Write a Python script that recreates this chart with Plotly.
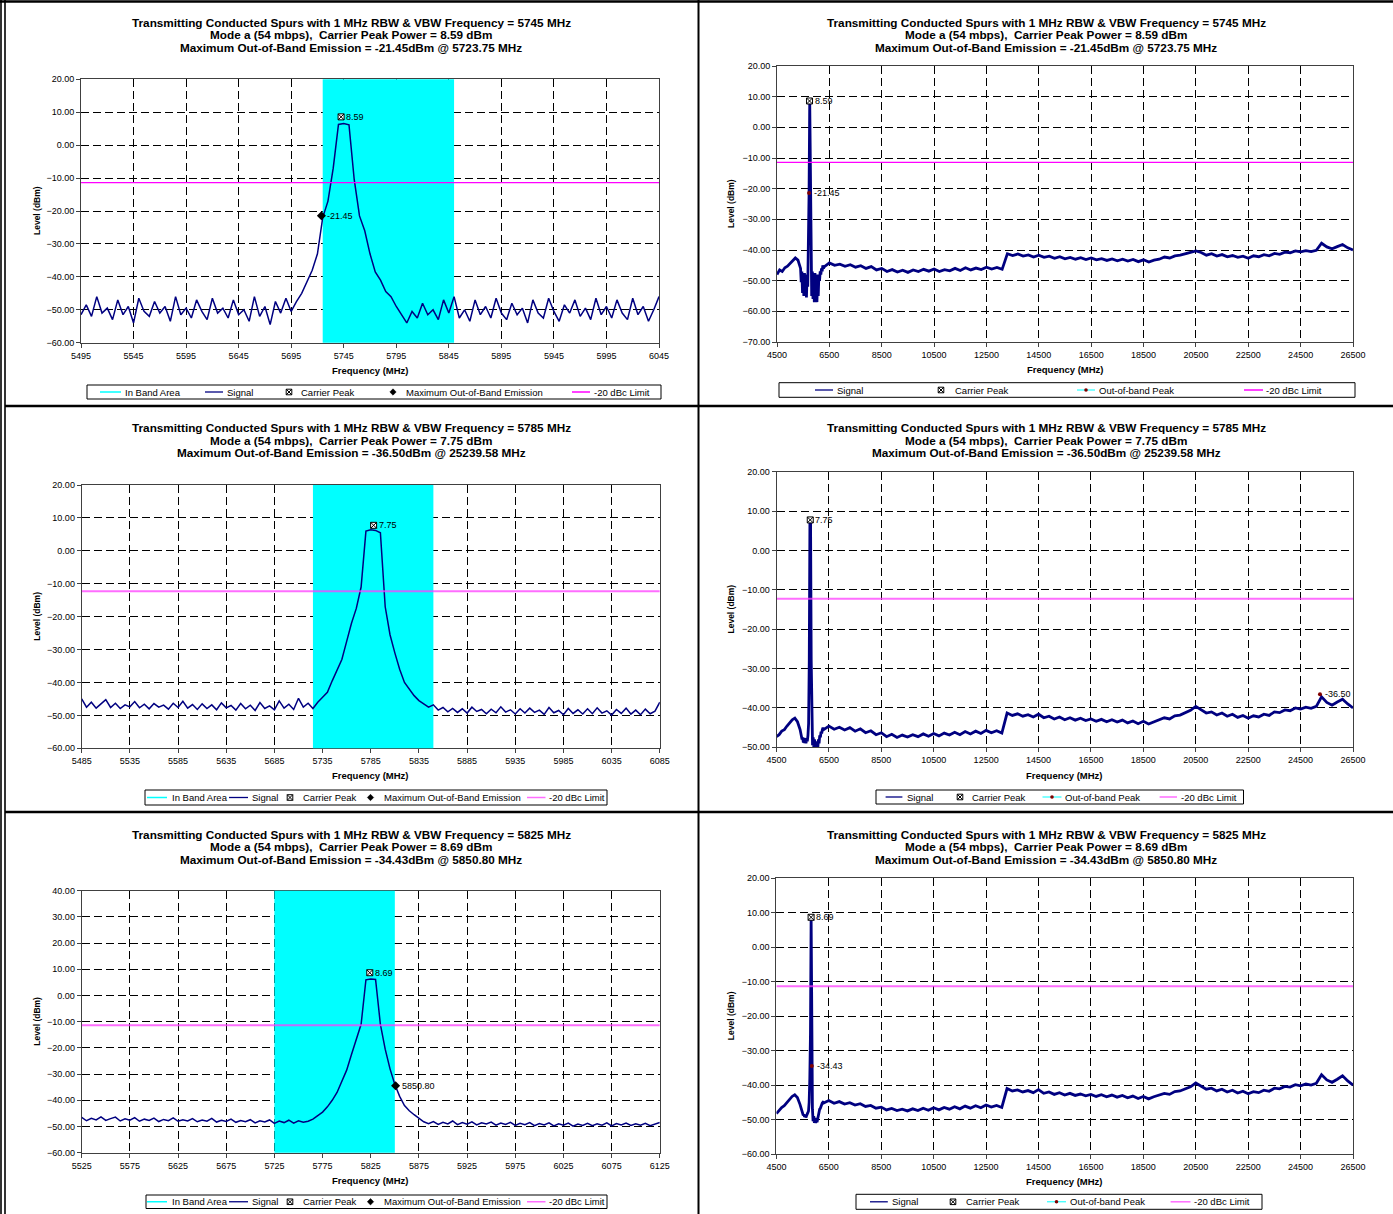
import numpy as np
import plotly.graph_objects as go

W, H = 1393, 1214
FONT = "Liberation Sans, Arial, sans-serif"

# ======================= DATA =======================
channel_mhz = [5745, 5785, 5825]
carrier_peak_mhz = [5742.5, 5788.0, 5824.0]
carrier_peak_dbm = [8.59, 7.75, 8.69]
oob_max_mhz = [5723.75, 25239.58, 5850.80]
oob_max_dbm = [-21.45, -36.50, -34.43]
in_band_mhz = [5725, 5850]
limit_offset_db = -20

inband_x_range = [[5495, 6045], [5485, 6085], [5525, 6125]]
inband_y_range = [[-60, 20], [-60, 20], [-60, 40]]
spur_x_range = [4500, 26500]
spur_y_range = [[-70, 20], [-50, 20], [-60, 20]]

inband_x_dtick = 50
spur_x_dtick = 2000

# in-band sweeps: start frequency, 5 MHz step
inband_sweep_start = [5495, 5485, 5525]
inband_sweep_step = 5

inband_level_1 = [
    -51.5, -48.5, -52.0, -46.0, -51.0, -49.5, -53.0, -47.0, -51.5, -49.0,
    -54.0, -46.5, -50.5, -52.0, -47.5, -51.0, -49.0, -53.5, -46.0, -51.5,
    -49.5, -52.5, -47.0, -50.5, -53.0, -46.5, -51.0, -49.5, -52.5, -47.0,
    -51.5, -50.0, -53.5, -46.0, -52.0, -49.0, -54.5, -47.5, -51.0, -46.5,
    -50.5, -47.5, -45.0, -41.5, -38.0, -33.0, -22.0, -17.0, -7.0, 6.3,
    6.6, 6.2, -10.5, -21.5, -26.0, -33.0, -38.5, -41.0, -44.5, -46.0,
    -49.0, -51.5, -54.0, -50.5, -52.5, -48.0, -51.5, -50.0, -53.0, -47.0,
    -51.0, -46.0, -52.5, -50.0, -53.5, -47.0, -51.5, -49.0, -52.5, -46.5,
    -51.0, -53.0, -48.0, -51.5, -49.5, -54.0, -47.0, -51.0, -52.5, -46.5,
    -50.5, -53.5, -48.5, -51.0, -47.0, -52.0, -49.5, -53.0, -46.5, -51.5,
    -49.0, -52.5, -47.0, -51.0, -53.0, -46.5, -51.5, -49.0, -53.5, -50.0,
    -46.0,
]
inband_level_2 = [
    -45.0, -47.5, -46.0, -47.8, -46.5, -45.2, -47.6, -46.3, -47.9, -46.8,
    -47.4, -45.8, -47.7, -46.6, -48.0, -46.4, -47.5, -46.9, -48.1, -46.3,
    -47.6, -45.7, -47.8, -46.7, -48.2, -46.5, -47.9, -46.8, -48.3, -46.2,
    -47.7, -47.0, -48.4, -46.4, -48.0, -46.9, -48.5, -46.1, -47.9, -47.1,
    -48.3, -45.6, -47.8, -46.6, -48.2, -44.8, -47.5, -46.3, -47.9, -46.0,
    -44.5, -43.0, -39.5, -36.5, -33.0, -27.5, -22.0, -17.5, -11.0, 6.0,
    6.4, 6.2, 5.5, -17.0, -25.5, -31.0, -36.0, -40.0, -42.0, -44.0,
    -45.5, -46.5, -47.5, -46.8, -48.4, -47.6, -48.9, -47.9, -49.1, -48.0,
    -49.3, -47.5, -48.8, -48.2, -49.5, -48.1, -49.2, -47.4, -49.0, -48.3,
    -49.6, -48.0, -49.3, -47.8, -49.1, -48.4, -49.7, -47.6, -49.2, -48.5,
    -49.8, -47.9, -49.4, -48.3, -49.6, -48.0, -49.5, -47.7, -49.3, -48.6,
    -49.9, -48.2, -49.4, -47.8, -49.6, -48.4, -49.8, -48.1, -49.5, -48.7,
    -46.0,
]
inband_level_3 = [
    -46.5, -47.8, -46.9, -47.5, -46.3, -47.7, -47.0, -46.4, -47.9, -47.1,
    -47.6, -46.6, -48.0, -47.2, -47.7, -46.8, -48.1, -47.3, -47.8, -46.7,
    -48.0, -47.4, -47.9, -47.0, -48.2, -47.5, -48.0, -46.9, -48.3, -47.6,
    -48.1, -47.2, -48.4, -47.7, -48.2, -47.4, -48.6, -47.8, -48.3, -47.5,
    -48.8, -47.9, -48.5, -47.6, -48.7, -47.8, -48.4, -48.0, -47.2, -46.0,
    -44.5, -42.5, -40.0, -37.0, -32.5, -28.5, -22.5, -17.0, -11.0, 6.0,
    6.3, 6.1, -11.0, -20.5, -28.0, -34.0, -38.5, -42.0, -44.0, -45.5,
    -47.0, -48.2, -48.9, -48.1, -49.2, -48.4, -49.0, -47.9, -49.3, -48.5,
    -49.1, -48.2, -49.4, -48.6, -49.0, -48.3, -49.5, -48.7, -49.2, -48.4,
    -49.6, -48.8, -49.3, -48.5, -49.7, -48.9, -49.4, -48.6, -49.8, -49.0,
    -49.5, -48.7, -49.9, -49.1, -49.6, -48.8, -49.7, -49.0, -49.5, -48.6,
    -49.8, -48.9, -49.4, -48.7, -49.6, -49.0, -49.5, -48.8, -49.7, -49.1,
    -48.5,
]

# spurious sweeps: three segments (start, step)
spur_seg_start = [4500, 5400, 6300]
spur_seg_step = [100, 25, 200]

spur_a_1 = [-48.0, -46.5, -47.0, -45.8, -45.3, -44.4, -43.2, -42.6, -43.3]
spur_b_1 = [
    -46.0, -50.5, -47.0, -54.0, -48.0, -55.0, -47.5, -54.5, -48.5, -55.5,
    -48.0, -52.0, -38.0, -21.45, 8.3, -22.0, -40.0, -55.0, -47.0, -56.0,
    -48.0, -57.0, -47.5, -56.5, -48.0, -57.0, -49.0, -55.0, -48.0, -50.0,
    -47.0, -48.0, -46.0, -47.0, -45.0, -46.0,
]
spur_c_1 = [
    -45.5, -44.2, -45.0, -44.6, -45.3, -44.8, -45.6, -45.1, -46.0, -45.4,
    -46.5, -46.0, -47.0, -46.4, -47.2, -46.6, -47.3, -46.5, -47.0, -46.3,
    -46.9, -46.2, -47.0, -46.4, -46.8, -46.0, -46.7, -45.8, -46.5, -45.9,
    -46.4, -45.6, -46.2, -45.7, -46.3, -41.2, -41.8, -41.3, -42.0, -41.6,
    -42.3, -41.7, -42.4, -42.0, -42.7, -42.2, -42.9, -42.4, -43.0, -42.5,
    -43.1, -42.6, -43.2, -42.8, -43.4, -42.9, -43.5, -43.0, -43.6, -43.1,
    -43.8, -43.2, -43.9, -43.3, -43.0, -42.3, -42.6, -41.9, -41.7, -41.2,
    -40.9, -40.3, -40.8, -41.7, -41.2, -42.0, -41.5, -42.2, -41.8, -42.4,
    -42.0, -42.7, -41.9, -42.2, -41.5, -41.9, -41.1, -41.4, -40.7, -40.9,
    -40.3, -40.6, -40.2, -40.5, -40.1, -37.8, -39.0, -39.6, -38.9, -38.2,
    -39.3, -40.0,
]

spur_a_2 = [-47.3, -46.8, -45.9, -45.5, -44.6, -43.9, -43.0, -42.6, -43.5]
spur_b_2 = [
    -45.5, -46.5, -47.0, -48.0, -47.5, -48.8, -47.6, -48.9, -47.8, -49.0,
    -47.7, -48.5, -47.0, -44.0, -28.0, 7.2, 7.0, -28.0, -46.0, -49.5,
    -47.5, -50.0, -48.0, -50.5, -49.0, -51.0, -48.5, -50.2, -48.0, -49.0,
    -47.0, -47.5, -46.0, -46.5, -45.5, -45.0,
]
spur_c_2 = [
    -45.5, -44.6, -45.4, -44.9, -45.6, -45.0, -45.9, -45.3, -46.3, -45.8,
    -46.8, -46.3, -47.3, -46.7, -47.5, -46.9, -47.4, -46.8, -47.3, -46.6,
    -47.2, -46.5, -47.1, -46.4, -46.9, -46.2, -46.8, -46.0, -46.6, -45.9,
    -46.5, -45.7, -46.3, -45.8, -46.4, -41.3, -41.9, -41.5, -42.1, -41.7,
    -42.3, -41.6, -42.5, -42.1, -42.8, -42.3, -43.0, -42.5, -43.1, -42.6,
    -43.2, -42.8, -43.4, -42.9, -43.5, -43.0, -43.6, -43.1, -43.8, -43.3,
    -44.0, -43.4, -44.1, -43.5, -43.1, -42.5, -42.8, -42.0, -41.8, -41.3,
    -40.6, -39.6, -40.4, -41.3, -41.0, -41.8, -41.3, -42.1, -41.6, -42.4,
    -41.9, -42.6, -42.0, -42.3, -41.6, -41.9, -41.0, -41.2, -40.5, -40.7,
    -40.0, -40.3, -39.8, -40.1, -39.6, -37.2, -38.6, -39.3, -38.5, -37.8,
    -39.0, -40.0,
]

spur_a_3 = [-48.3, -47.4, -46.5, -46.0, -45.0, -44.2, -43.3, -42.8, -43.6]
spur_b_3 = [
    -45.6, -46.4, -47.2, -47.9, -48.3, -48.8, -48.5, -49.2, -48.7, -49.4,
    -48.9, -48.6, -48.0, -47.5, -45.0, -38.0, -25.0, 8.69, -34.43, -47.0,
    -50.5, -49.0, -51.0, -49.5, -51.0, -49.8, -50.8, -49.5, -49.0, -48.0,
    -47.0, -46.8, -46.0, -45.8, -45.2, -45.0,
]
spur_c_3 = [
    -45.2, -44.5, -45.3, -44.8, -45.5, -45.1, -45.8, -45.4, -46.2, -45.9,
    -46.7, -46.4, -47.2, -46.8, -47.4, -47.0, -47.5, -46.9, -47.4, -46.7,
    -47.3, -46.6, -47.2, -46.5, -47.0, -46.3, -46.9, -46.1, -46.7, -46.0,
    -46.6, -45.8, -46.4, -45.9, -46.5, -41.0, -41.7, -41.4, -42.0, -41.6,
    -42.2, -41.3, -42.4, -42.0, -42.7, -42.2, -42.9, -42.4, -43.0, -42.6,
    -43.1, -42.7, -43.3, -42.8, -43.4, -42.9, -43.5, -43.0, -43.7, -43.2,
    -43.9, -43.3, -44.0, -43.4, -43.0, -42.4, -42.7, -41.9, -41.7, -41.1,
    -40.5, -39.4, -40.3, -41.2, -40.9, -41.7, -41.2, -42.0, -41.5, -42.3,
    -41.8, -42.5, -41.9, -42.2, -41.5, -41.8, -40.9, -41.1, -40.4, -40.6,
    -39.9, -40.2, -39.7, -40.0, -39.5, -37.0, -38.5, -39.2, -38.3, -37.3,
    -38.8, -40.0,
]

inband_levels = [inband_level_1, inband_level_2, inband_level_3]
spur_segments = [[spur_a_1, spur_b_1, spur_c_1],
                 [spur_a_2, spur_b_2, spur_c_2],
                 [spur_a_3, spur_b_3, spur_c_3]]

# ======================= LAYOUT GEOMETRY (pixels) =======================
geom = {
    1: (81, 659, 79.3, 342.7),
    2: (777, 1353, 66, 342),
    3: (81.7, 659.8, 485, 748.3),
    4: (776.5, 1353, 471.7, 747.3),
    5: (81.7, 659.8, 890.7, 1152.7),
    6: (776.4, 1353, 878.3, 1154),
}
title_rows = [[22, 35, 48], [427, 440, 453], [834, 846.5, 859]]
title_cx = [351, 1046]
xtitle_y = {1: 370, 2: 369, 3: 776, 4: 775, 5: 1180, 6: 1181}
ytitle_x = {1: 37, 2: 731, 3: 37, 4: 730, 5: 37, 6: 731}

# hand-laid legend boxes: (x0, x1, y0, y1) and item anchors (sample x0, sample x1 / marker x, text x)
legend_box = {
    1: (87, 661, 385, 399),
    2: (779, 1355, 382.7, 397.3),
    3: (145, 607, 790, 805),
    4: (876, 1243.5, 790, 804),
    5: (146, 607, 1195, 1208.5),
    6: (856, 1262, 1194.3, 1209.3),
}
legend_items = {
    1: [("line", 100, 121, 123), ("line", 205, 223, 225), ("sqx", 289, 0, 299),
        ("dia", 393, 0, 404), ("line", 572, 590, 592)],
    2: [("line", 815, 833, 835), ("sqx", 941, 0, 953), ("dot", 1077, 1095, 1097),
        ("line", 1244, 1263, 1264)],
    3: [("line", 147, 167, 170), ("line", 229, 248, 250), ("sqx", 290, 0, 301),
        ("dia", 370.5, 0, 381.5), ("line", 527, 545.5, 547)],
    4: [("line", 885.6, 902.4, 904.6), ("sqx", 960, 0, 970.4), ("dot", 1042.5, 1061.5, 1063),
        ("line", 1159.6, 1177, 1178.6)],
    5: [("line", 147, 167, 170), ("line", 229, 248, 250), ("sqx", 290, 0, 301),
        ("dia", 370.5, 0, 381.5), ("line", 527, 545.5, 547)],
    6: [("line", 870, 887.8, 890), ("sqx", 953, 0, 964), ("dot", 1047, 1066, 1067.6),
        ("line", 1170.6, 1190.5, 1191.8)],
}


def px(x):
    return x / W


def py(y):
    return 1 - y / H


NAVY = "#000080"
CYAN = "#00FFFF"
MAGENTA = "#FF00FF"
DARKRED = "#800000"

fig = go.Figure()
annotations = []
shapes = []
layout = {}


def sid(n):
    return "" if n == 1 else str(n)


def axis_common():
    return dict(showline=True, linecolor="#404040", linewidth=1, mirror=True,
                ticks="outside", ticklen=4, tickcolor="#404040", tickwidth=1,
                showgrid=True, gridcolor="black", gridwidth=1, griddash="8px,4px",
                zeroline=False, fixedrange=True, automargin=False,
                tickfont=dict(family=FONT, size=9, color="black"))


def pline(x0, y0, x1, y1, color, w):
    return dict(type="line", xref="paper", yref="paper", x0=px(x0), x1=px(x1),
                y0=py(y0), y1=py(y1), line=dict(color=color, width=w), layer="above")


for k in range(3):
    peak = carrier_peak_dbm[k]
    limit = peak + limit_offset_db
    title_lines = [
        f"Transmitting Conducted Spurs with 1 MHz RBW & VBW Frequency = {channel_mhz[k]} MHz",
        f"Mode a (54 mbps),  Carrier Peak Power = {peak:.2f} dBm",
        f"Maximum Out-of-Band Emission = {oob_max_dbm[k]:.2f}dBm @ {oob_max_mhz[k]:.2f} MHz",
    ]
    lim_col = MAGENTA if k == 0 else "rgba(255,60,255,0.75)"
    lim_w = 1.2 if k == 0 else 2
    for side in range(2):
        n = 2 * k + 1 + side
        s = sid(n)
        xa, ya = "x" + s, "y" + s
        x0, x1, yt, yb = geom[n]

        xax = axis_common()
        yax = axis_common()
        if side == 0:
            xr = inband_x_range[k]
            yr = inband_y_range[k]
            xax.update(range=xr, tick0=xr[0], dtick=inband_x_dtick, layer="below traces")
            yax.update(layer="below traces")
        else:
            xr = spur_x_range
            yr = spur_y_range[k]
            xax.update(range=xr, tick0=xr[0], dtick=spur_x_dtick)
        xax.update(tickformat="d", domain=[px(x0), px(x1)], anchor=ya)
        yax.update(range=yr, tick0=0, dtick=10, tickformat=".2f",
                   domain=[py(yb), py(yt)], anchor=xa)
        layout["xaxis" + s] = xax
        layout["yaxis" + s] = yax

        if side == 0:
            lv = inband_levels[k]
            freq = inband_sweep_start[k] + inband_sweep_step * np.arange(len(lv))
            lw = 1.5
        else:
            parts_f, parts_l = [], []
            for seg, st, stp in zip(spur_segments[k], spur_seg_start, spur_seg_step):
                parts_f.append(st + stp * np.arange(len(seg)))
                parts_l.append(np.array(seg))
            freq = np.concatenate(parts_f)
            lv = np.concatenate(parts_l)
            lw = 2.8

        if side == 0:
            # In-band area as a column spanning the full level axis (slightly overhanging)
            span = yr[1] - yr[0]
            pad = 0.016 * span
            fig.add_trace(go.Bar(x=[(in_band_mhz[0] + in_band_mhz[1]) / 2], y=[span + 2 * pad],
                                 base=[yr[0] - pad], width=[in_band_mhz[1] - in_band_mhz[0]],
                                 name="In Band Area", marker=dict(color=CYAN, line=dict(width=0)),
                                 cliponaxis=False, hoverinfo="skip", xaxis=xa, yaxis=ya))

        fig.add_trace(go.Scatter(x=freq, y=lv, mode="lines", name="Signal",
                                 line=dict(color=NAVY, width=lw), xaxis=xa, yaxis=ya))

        fig.add_trace(go.Scatter(x=[carrier_peak_mhz[k]], y=[peak], mode="markers",
                                 name="Carrier Peak",
                                 marker=dict(symbol="square-x", size=6, color="white",
                                             line=dict(color="black", width=1)),
                                 xaxis=xa, yaxis=ya))
        annotations.append(dict(xref=xa, yref=ya, x=carrier_peak_mhz[k], y=peak,
                                text=f"{peak:.2f}", showarrow=False, xanchor="left",
                                yanchor="middle", xshift=3,
                                font=dict(family=FONT, size=9, color="black")))

        if side == 0:
            fig.add_trace(go.Scatter(x=[oob_max_mhz[k]], y=[oob_max_dbm[k]], mode="markers",
                                     name="Maximum Out-of-Band Emission",
                                     marker=dict(symbol="diamond", size=7, color="black"),
                                     xaxis=xa, yaxis=ya))
            if xr[0] <= oob_max_mhz[k] <= xr[1]:
                lbl = f"{oob_max_dbm[k]:.2f}" if k == 0 else f"{oob_max_mhz[k]:.2f}"
                annotations.append(dict(xref=xa, yref=ya, x=oob_max_mhz[k], y=oob_max_dbm[k],
                                        text=lbl, showarrow=False, xanchor="left",
                                        yanchor="middle", xshift=4,
                                        font=dict(family=FONT, size=9, color="black")))
        else:
            fig.add_trace(go.Scatter(x=[oob_max_mhz[k]], y=[oob_max_dbm[k]],
                                     mode="lines+markers", name="Out-of-band Peak",
                                     line=dict(color=CYAN, width=1),
                                     marker=dict(symbol="circle", size=4, color=DARKRED),
                                     xaxis=xa, yaxis=ya))
            annotations.append(dict(xref=xa, yref=ya, x=oob_max_mhz[k], y=oob_max_dbm[k],
                                    text=f"{oob_max_dbm[k]:.2f}", showarrow=False,
                                    xanchor="left", yanchor="middle", xshift=3,
                                    font=dict(family=FONT, size=9, color="black")))

        fig.add_trace(go.Scatter(x=xr, y=[limit, limit], mode="lines", name="-20 dBc Limit",
                                 line=dict(color=lim_col, width=lim_w), xaxis=xa, yaxis=ya))

        # titles
        for line_text, yy in zip(title_lines, title_rows[k]):
            annotations.append(dict(xref="paper", yref="paper", x=px(title_cx[side]), y=py(yy),
                                    text=f"<b>{line_text}</b>", showarrow=False,
                                    xanchor="center", yanchor="middle",
                                    font=dict(family=FONT, size=11.75, color="black")))
        annotations.append(dict(xref="paper", yref="paper", x=px((x0 + x1) / 2),
                                y=py(xtitle_y[n]), text="<b>Frequency (MHz)</b>",
                                showarrow=False, xanchor="center", yanchor="middle",
                                font=dict(family=FONT, size=9.5, color="black")))
        annotations.append(dict(xref="paper", yref="paper", x=px(ytitle_x[n]),
                                y=py((yt + yb) / 2), text="<b>Level (dBm)</b>", textangle=-90,
                                showarrow=False, xanchor="center", yanchor="middle",
                                font=dict(family=FONT, size=8.5, color="black")))

        # legend (drawn box with samples and labels)
        if side == 0:
            names = ["In Band Area", "Signal", "Carrier Peak",
                     "Maximum Out-of-Band Emission", "-20 dBc Limit"]
            colors = [CYAN, NAVY, "black", "black", lim_col]
        else:
            names = ["Signal", "Carrier Peak", "Out-of-band Peak", "-20 dBc Limit"]
            colors = [NAVY, "black", CYAN, lim_col]
        bx0, bx1, by0, by1 = legend_box[n]
        cy = (by0 + by1) / 2
        shapes.append(dict(type="rect", xref="paper", yref="paper", x0=px(bx0), x1=px(bx1),
                           y0=py(by1), y1=py(by0), line=dict(color="black", width=1),
                           fillcolor="white", layer="above"))
        for (kind, a, b, tx), name, col in zip(legend_items[n], names, colors):
            if kind == "line":
                shapes.append(pline(a, cy, b, cy, col, 1.5 if col != NAVY else 1.3))
            elif kind == "dot":
                shapes.append(pline(a, cy, b, cy, col, 1))
                m = (a + b) / 2
                shapes.append(dict(type="circle", xref="paper", yref="paper",
                                   x0=px(m - 1.8), x1=px(m + 1.8), y0=py(cy + 1.8), y1=py(cy - 1.8),
                                   fillcolor=DARKRED, line=dict(width=0), layer="above"))
            elif kind == "sqx":
                r = 2.8
                shapes.append(dict(type="rect", xref="paper", yref="paper",
                                   x0=px(a - r), x1=px(a + r), y0=py(cy + r), y1=py(cy - r),
                                   fillcolor="white", line=dict(color="black", width=1),
                                   layer="above"))
                shapes.append(pline(a - r, cy - r, a + r, cy + r, "black", 1))
                shapes.append(pline(a - r, cy + r, a + r, cy - r, "black", 1))
            elif kind == "dia":
                r = 3.2
                path = (f"M {px(a)},{py(cy - r)} L {px(a + r)},{py(cy)} "
                        f"L {px(a)},{py(cy + r)} L {px(a - r)},{py(cy)} Z")
                shapes.append(dict(type="path", xref="paper", yref="paper", path=path,
                                   fillcolor="black", line=dict(color="black", width=0.5),
                                   layer="above"))
            annotations.append(dict(xref="paper", yref="paper", x=px(tx), y=py(cy), text=name,
                                    showarrow=False, xanchor="left", yanchor="middle",
                                    font=dict(family=FONT, size=9.5, color="black")))

# page borders / panel dividers
shapes += [
    pline(1.0, 0, 1.0, H, "black", 1.6), pline(5.0, 0, 5.0, H, "black", 1.6),
    pline(0, 1.5, W, 1.5, "black", 2.5),
    pline(5, 406, W, 406, "black", 2.5), pline(5, 812, W, 812, "black", 2.5),
    pline(698.5, 0, 698.5, H, "black", 2),
]

fig.update_layout(
    width=W, height=H,
    margin=dict(l=0, r=0, t=0, b=0, pad=0, autoexpand=False),
    paper_bgcolor="white", plot_bgcolor="white",
    font=dict(family=FONT, size=9, color="black"),
    annotations=annotations, shapes=shapes, showlegend=False,
    **layout,
)

fig.write_html("out.html", config={"displayModeBar": False},
               post_script="document.body.style.margin='0px';")
